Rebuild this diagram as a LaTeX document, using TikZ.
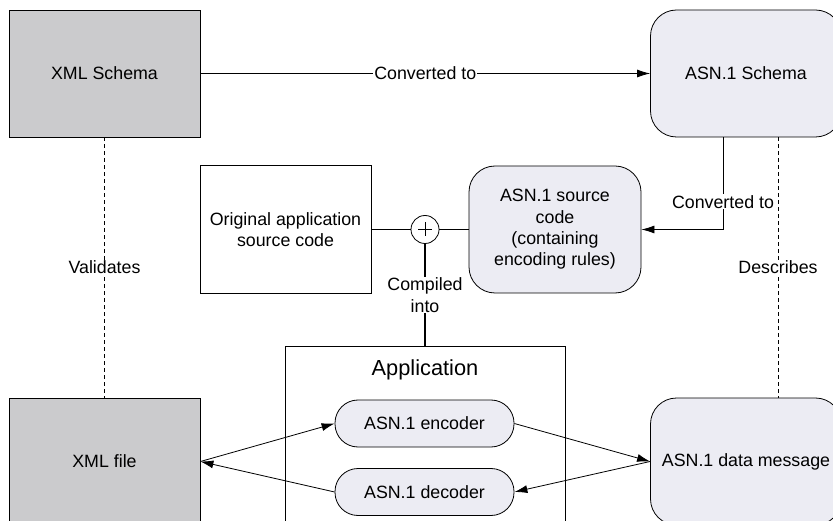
\documentclass[tikz,border=0pt]{standalone}
\usepackage{fontspec}
\setmainfont{Liberation Sans}
\usetikzlibrary{arrows.meta}
\definecolor{xmlgray}{RGB}{203,203,205}
\definecolor{asnfill}{RGB}{236,236,243}
\begin{document}
\begin{tikzpicture}[x=1pt,y=-1pt,line width=0.8pt,
	font=\fontsize{17.8}{21.4}\selectfont,
	box/.style={draw, minimum width=191pt, minimum height=127pt, inner sep=0pt, align=center},
	xmlbox/.style={box, fill=xmlgray},
	asnbox/.style={box, fill=asnfill, rounded corners=26pt},
	pill/.style={draw, fill=asnfill, minimum width=179pt, minimum height=47pt, rounded corners=23pt},
	arr/.style={-{Latex[length=13pt,width=8pt]}},
	lbl/.style={fill=white, inner sep=1pt, align=center}]
					% Define the frame
					\useasboundingbox (0,0) rectangle (833,521);
					\clip (0,0) rectangle (833,521);
					% Top row
					\node[xmlbox] (xsd) at (104.5,73.5) {XML Schema};
					\node[asnbox] (asnschema) at (746,73.5) {ASN.1 Schema};
					% Middle row
					\node[box, minimum width=171pt, minimum height=128pt] (orig) at (285.5,229.5) {Original application\\source code};
					\node[asnbox, minimum width=172pt] (src) at (555,229.5) {ASN.1 source\\code\\(containing\\encoding rules)};
					\node[circle, draw, minimum size=28pt, inner sep=0pt] (plus) at (425,229.5) {};
					\draw (plus.center) +(-7,0) -- +(7,0) (plus.center) +(0,-7) -- +(0,7);
					% Bottom row
					\node[xmlbox] (xmlfile) at (104.5,461.5) {XML file};
					\node[asnbox] (datamsg) at (746,461.5) {ASN.1 data message};
					\node[draw, minimum width=280pt, minimum height=220pt, anchor=north] (app) at (425,346) {};
					\node[font=\fontsize{21.8}{26}\selectfont] (apptitle) at (425,370) {Application};
					\node[pill] (enc) at (424.5,423.5) {ASN.1 encoder};
					\node[pill] (dec) at (424.5,492) {ASN.1 decoder};
					% Connectors
					\draw[arr] (xsd) -- node[lbl] {Converted to} (asnschema);
					\draw[arr] ([xshift=-23pt]asnschema.south) |- node[lbl,pos=0.35] {Converted to} (src.east);
					\draw[dash pattern=on 4pt off 3pt] (xsd) -- node[lbl] {Validates} (xmlfile);
					\draw[dash pattern=on 4pt off 3pt] ([xshift=32pt]asnschema.south) -- node[lbl] {Describes} ([xshift=32pt]datamsg.north);
					\draw (orig.east) -- (plus.west);
					\draw (plus.east) -- (src.west);
					\draw[line width=1.3pt] (plus.south) -- node[lbl] {Compiled\\into} (app.north);
					\draw[arr] (xmlfile.east) -- (enc.west);
					\draw[arr] (dec.west) -- (xmlfile.east);
					\draw[arr] (enc.east) -- (datamsg.west);
					\draw[arr] (datamsg.west) -- (dec.east);
				\end{tikzpicture}
\end{document}
